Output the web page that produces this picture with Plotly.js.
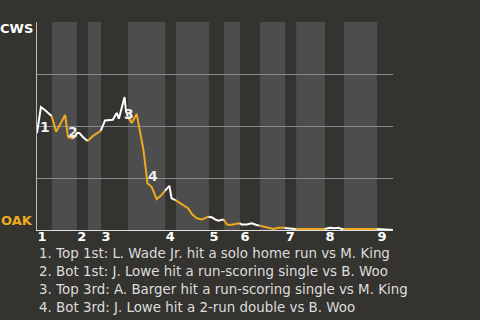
<!DOCTYPE html>
<html>
<head>
<meta charset="utf-8">
<script src="https://cdn.plot.ly/plotly-3.0.1.min.js"></script>
<style>
  html, body { margin: 0; padding: 0; background: #353330; }
  #chart { width: 480px; height: 320px; }
</style>
</head>
<body>
<div id="chart"></div>
<script>
// Half-inning start positions (play index), top halves at even positions
const halfStarts = [0, 4.2, 11.2, 14.3, 18.0, 25.6, 36.0, 39.0, 48.3, 52.5, 57.0, 62.6, 69.7, 72.8, 80.9, 86.2, 95.5];
const gameEnd = 100;
const inningLabels = ["1", "2", "3", "4", "5", "6", "7", "8", "9"];

// Win probability for CWS after each play
const playX = [
  0, 1.1, 2.2, 3.2, 4.1,
  5.4, 7.9, 8.7, 10.1,
  11.3, 11.9, 12.9, 14.2,
  15.7, 16.9, 17.9,
  19.1, 21.3, 22.4, 23.0, 24.6, 25.0, 25.5,
  26.6, 28.0, 28.5, 29.4, 29.9, 30.6, 31.0, 32.2, 33.6, 35.0, 35.9,
  37.2, 37.8, 38.9,
  40.2, 41.1, 42.5, 43.5, 44.9, 46.3, 47.5, 48.2,
  49.2, 50.0, 50.9, 51.7, 52.4,
  53.3, 54.2, 56.1, 56.9,
  57.5, 58.9, 60.3, 61.7, 62.5,
  63.6, 65.4, 66.4, 67.8, 69.6,
  70.2, 72.7,
  76.7, 80.8,
  81.5, 82.3, 83.7, 84.6, 85.6, 86.1,
  90.7, 95.4,
  97.8, 100
];
const cwsWinProb = [
  0.466, 0.591, 0.577, 0.562, 0.548,
  0.473, 0.553, 0.447, 0.440,
  0.466, 0.466, 0.447, 0.428,
  0.452, 0.466, 0.476,
  0.527, 0.530, 0.563, 0.535, 0.639, 0.572, 0.545,
  0.514, 0.558, 0.514, 0.433, 0.385, 0.288, 0.225, 0.208, 0.148, 0.168, 0.188,
  0.212, 0.152, 0.144,
  0.128, 0.120, 0.104, 0.077, 0.056, 0.051, 0.060, 0.064,
  0.060, 0.051, 0.045, 0.048, 0.051,
  0.027, 0.024, 0.032, 0.032,
  0.027, 0.027, 0.032, 0.024, 0.021,
  0.016, 0.011, 0.005, 0.011, 0.011,
  0.008, 0.005,
  0.005, 0.005,
  0.008, 0.011, 0.008, 0.011, 0.005, 0.005,
  0.005, 0.005,
  0.003, 0.000
];

// Key events
const eventNums = ["1", "2", "3", "4"];
const eventX = [2.25, 10.1, 25.8, 32.6];
const eventY = [0.495, 0.471, 0.558, 0.26];
const eventTexts = [
  "1. Top 1st: L. Wade Jr. hit a solo home run vs M. King",
  "2. Bot 1st: J. Lowe hit a run-scoring single vs B. Woo",
  "3. Top 3rd: A. Barger hit a run-scoring single vs M. King",
  "4. Bot 3rd: J. Lowe hit a 2-run double vs B. Woo"
];

const awayTeam = "CWS", homeTeam = "OAK";
const WHITE = "#ffffff", ORANGE = "#efab1f";
const PAGE = "#353330", BAND = "#4d4d4d";
const FONT = "DejaVu Sans";

function halfOf(x) {
  let h = 0;
  for (let i = 0; i < halfStarts.length; i++) if (x >= halfStarts[i]) h = i;
  return h;
}

// Build line segments per half-inning, alternating colors
const segs = { top: { x: [], y: [] }, bot: { x: [], y: [] } };
let prev = null;
let curHalf = -1;
let cur = null;
for (let i = 0; i < playX.length; i++) {
  const h = halfOf(playX[i]);
  if (h !== curHalf) {
    cur = h % 2 === 0 ? segs.top : segs.bot;
    if (cur.x.length) { cur.x.push(null); cur.y.push(null); }
    if (prev) { cur.x.push(prev[0]); cur.y.push(prev[1]); }
    curHalf = h;
  }
  cur.x.push(playX[i]); cur.y.push(cwsWinProb[i]);
  prev = [playX[i], cwsWinProb[i]];
}

const traces = [
  { x: segs.bot.x, y: segs.bot.y, mode: "lines", line: { color: ORANGE, width: 2 }, hoverinfo: "skip", connectgaps: false },
  { x: segs.top.x, y: segs.top.y, mode: "lines", line: { color: WHITE, width: 2 }, hoverinfo: "skip", connectgaps: false }
];

const shapes = [];
for (let i = 1; i < halfStarts.length; i += 2) {
  const x1 = i + 1 < halfStarts.length ? halfStarts[i + 1] : gameEnd;
  shapes.push({ type: "rect", layer: "below", xref: "x", yref: "paper", x0: halfStarts[i], x1: x1, y0: 0, y1: 1, fillcolor: BAND, line: { width: 0 } });
}

const annotations = [];
eventNums.forEach((t, i) => annotations.push({
  text: t, x: eventX[i], y: eventY[i], xref: "x", yref: "y", showarrow: false,
  font: { family: FONT, size: 14, color: "#eeeeee", weight: "bold" }
}));
annotations.push({ text: awayTeam, xref: "paper", yref: "y", x: 0, y: 0.971, xanchor: "right", yanchor: "middle", xshift: -2, showarrow: false,
  font: { family: FONT, size: 13, color: "#ffffff", weight: "bold" } });
annotations.push({ text: homeTeam, xref: "paper", yref: "y", x: 0, y: 0.048, xanchor: "right", yanchor: "middle", xshift: -2, showarrow: false,
  font: { family: FONT, size: 13, color: ORANGE, weight: "bold" } });
eventTexts.forEach((t, i) => annotations.push({
  text: t, xref: "paper", yref: "paper", x: 0, xshift: 0, y: (230 - (253.3 + 18 * i)) / 208, xanchor: "left", yanchor: "middle", showarrow: false,
  font: { family: FONT, size: 13.4, color: "#dddddd" }
}));

const topStarts = halfStarts.filter((v, i) => i % 2 === 0);

const layout = {
  width: 480, height: 320,
  margin: { l: 37, r: 87, t: 22, b: 90, pad: 0 },
  paper_bgcolor: PAGE, plot_bgcolor: PAGE,
  showlegend: false,
  xaxis: {
    range: [0, gameEnd], showgrid: false, zeroline: false,
    showline: true, linecolor: "#dddddd", linewidth: 1,
    tickvals: topStarts, ticktext: inningLabels, ticks: "",
    ticklabelposition: "outside right", ticklabelstandoff: -6,
    tickfont: { family: FONT, size: 13, color: "#ffffff", weight: "bold" },
    fixedrange: true
  },
  yaxis: {
    range: [0, 1], tickvals: [0, 0.25, 0.5, 0.75, 1], showticklabels: false,
    showgrid: true, gridcolor: "#8a8a8a", gridwidth: 1, zeroline: false,
    showline: true, linecolor: "#bbbbbb", linewidth: 1, ticks: "", fixedrange: true
  },
  shapes: shapes,
  annotations: annotations
};

Plotly.newPlot("chart", traces, layout, { staticPlot: true, displayModeBar: false });
</script>
</body>
</html>
